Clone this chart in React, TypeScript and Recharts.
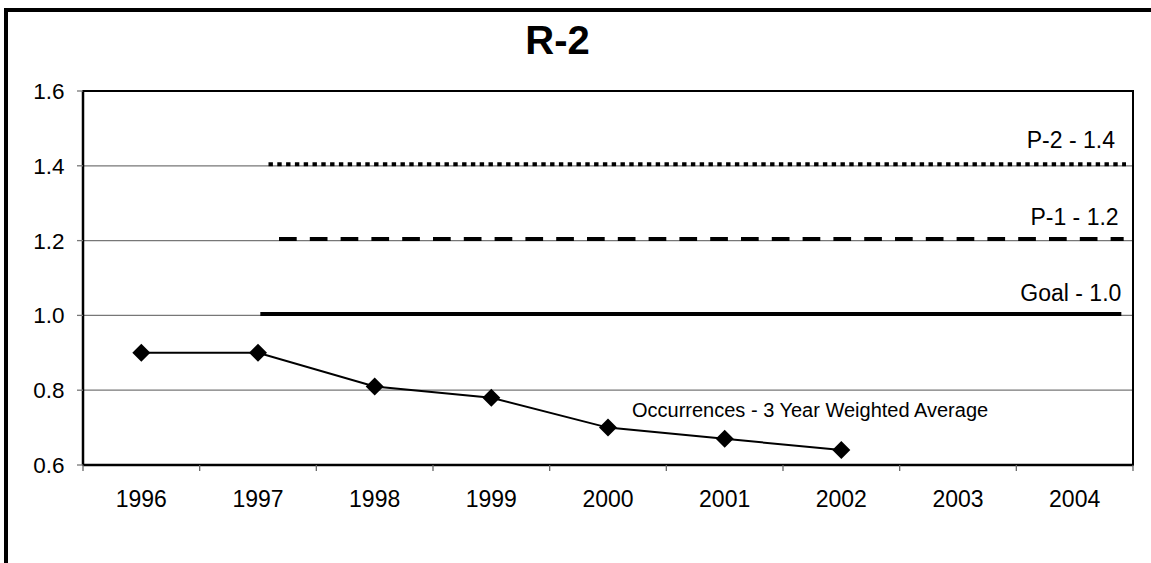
import React from "react";
import {
  ComposedChart,
  Line,
  XAxis,
  YAxis,
  CartesianGrid,
  ReferenceArea,
  LabelList,
} from "recharts";

// measured series
const years = [1996, 1997, 1998, 1999, 2000, 2001, 2002];
const occurrences = [0.9, 0.9, 0.81, 0.78, 0.7, 0.67, 0.64];

// axis ticks
const yearLabels = [1996, 1997, 1998, 1999, 2000, 2001, 2002, 2003, 2004];
const yearBounds = [1995.5, 1996.5, 1997.5, 1998.5, 1999.5, 2000.5, 2001.5, 2002.5, 2003.5, 2004.5];
const yTicks = [0.6, 0.8, 1.0, 1.2, 1.4, 1.6];

// target lines (start year, end year, level)
const goalSpan = [1997.02, 2004.4];
const goalLevel = 1.004;
const p1Span = [1997.18, 2004.42];
const p1Level = 1.204;
const p2Span = [1997.09, 2004.44];
const p2Level = 1.404;

const seriesName = "Occurrences - 3 Year Weighted Average";
const goalName = "Goal - 1.0";
const p1Name = "P-1 - 1.2";
const p2Name = "P-2 - 1.4";

const occurrenceData = years.map((year, i) => ({ year, value: occurrences[i] }));
const goalData = goalSpan.map((year) => ({ year, value: goalLevel }));
const p1Data = p1Span.map((year) => ({ year, value: p1Level }));
const p2Data = p2Span.map((year) => ({ year, value: p2Level }));

const FONT = "'Liberation Sans', Arial, sans-serif";

const Diamond = (props: any) => {
  const { cx, cy, index } = props;
  if (cx == null || cy == null) return null;
  const r = 9;
  return (
    <path
      key={`dia-${index}`}
      d={`M${cx},${cy - r}L${cx + r},${cy}L${cx},${cy + r}L${cx - r},${cy}Z`}
      fill="#000"
    />
  );
};

// text label drawn at the right end of a target line
const endLabel = (text: string, lastIndex: number, dx: number, dy: number) => (props: any) => {
  const { x, y, index } = props;
  if (index !== lastIndex) return null;
  return (
    <text
      x={x + dx}
      y={y + dy}
      textAnchor="end"
      fontFamily={FONT}
      fontSize={23}
      fill="#000"
    >
      {text}
    </text>
  );
};

const seriesLabel = (props: any) => {
  const { x, y, index } = props;
  if (index !== 4) return null;
  return (
    <text x={x + 24} y={y - 10.4} fontFamily={FONT} fontSize={20} fill="#000">
      {seriesName}
    </text>
  );
};

const emptyTick = () => <g />;

export default function App() {
  return (
    <div
      style={{
        position: "fixed",
        left: 0,
        top: 0,
        width: 1151,
        height: 563,
        overflow: "hidden",
        background: "#fff",
      }}
    >
      <div
        style={{
          position: "absolute",
          left: 4,
          top: 8.3,
          width: 1300,
          height: 700,
          borderLeft: "4.5px solid #000",
          borderTop: "4px solid #000",
        }}
      />
      <div
        style={{
          position: "absolute",
          left: 0,
          top: 20,
          width: 1115,
          textAlign: "center",
          fontFamily: FONT,
          fontWeight: "bold",
          fontSize: 40,
          lineHeight: "40px",
          color: "#000",
        }}
      >
        R-2
      </div>
      <div style={{ position: "absolute", left: 0, top: 0 }}>
        <ComposedChart
          width={1151}
          height={563}
          margin={{ top: 91, right: 18, bottom: 57, left: 0 }}
        >
          <CartesianGrid
            vertical={false}
            stroke="#777"
            strokeWidth={1.3}
            yAxisId="y"
            xAxisId="bounds"
          />
          <XAxis
            xAxisId="bounds"
            type="number"
            dataKey="year"
            domain={[1995.5, 2004.5]}
            ticks={yearBounds}
            interval={0}
            height={1}
            tick={emptyTick}
            tickSize={6}
            tickLine={{ stroke: "#666", strokeWidth: 1.3 }}
            axisLine={{ stroke: "#000", strokeWidth: 2.7 }}
          />
          <XAxis
            xAxisId="labels"
            type="number"
            dataKey="year"
            domain={[1995.5, 2004.5]}
            ticks={yearLabels}
            interval={0}
            height={40}
            tickLine={false}
            axisLine={false}
            tickSize={6}
            tickMargin={19}
            tick={{ fontSize: 23, fill: "#000", fontFamily: FONT }}
          />
          <YAxis
            yAxisId="y"
            type="number"
            domain={[0.6, 1.6]}
            ticks={yTicks}
            interval={0}
            width={83}
            tickSize={6}
            tickMargin={12.5}
            tickFormatter={(v: number) => v.toFixed(1)}
            tick={{ fontSize: 22.5, fill: "#000", fontFamily: FONT }}
            tickLine={{ stroke: "#777", strokeWidth: 1.3 }}
            axisLine={{ stroke: "#000", strokeWidth: 2.5 }}
          />
          <ReferenceArea
            xAxisId="bounds"
            yAxisId="y"
            x1={1995.5}
            x2={2004.5}
            y1={0.6}
            y2={1.6}
            fill="none"
            fillOpacity={0}
            stroke="#000"
            strokeWidth={2}
          />
          <Line
            xAxisId="bounds"
            yAxisId="y"
            data={goalData}
            dataKey="value"
            stroke="#000"
            strokeWidth={4}
            dot={false}
            activeDot={false}
            isAnimationActive={false}
          >
            <LabelList dataKey="value" content={endLabel(goalName, 1, 0, -13)} />
          </Line>
          <Line
            xAxisId="bounds"
            yAxisId="y"
            data={p1Data}
            dataKey="value"
            stroke="#000"
            strokeWidth={4}
            strokeDasharray="17.7 13.1"
            dot={false}
            activeDot={false}
            isAnimationActive={false}
          >
            <LabelList dataKey="value" content={endLabel(p1Name, 1, -5, -14.3)} />
          </Line>
          <Line
            xAxisId="bounds"
            yAxisId="y"
            data={p2Data}
            dataKey="value"
            stroke="#000"
            strokeWidth={4}
            strokeDasharray="4.4 4.4"
            dot={false}
            activeDot={false}
            isAnimationActive={false}
          >
            <LabelList dataKey="value" content={endLabel(p2Name, 1, -11, -16)} />
          </Line>
          <Line
            xAxisId="labels"
            yAxisId="y"
            data={occurrenceData}
            dataKey="value"
            stroke="#000"
            strokeWidth={2}
            dot={<Diamond />}
            activeDot={false}
            isAnimationActive={false}
          >
            <LabelList dataKey="value" content={seriesLabel} />
          </Line>
        </ComposedChart>
      </div>
    </div>
  );
}
